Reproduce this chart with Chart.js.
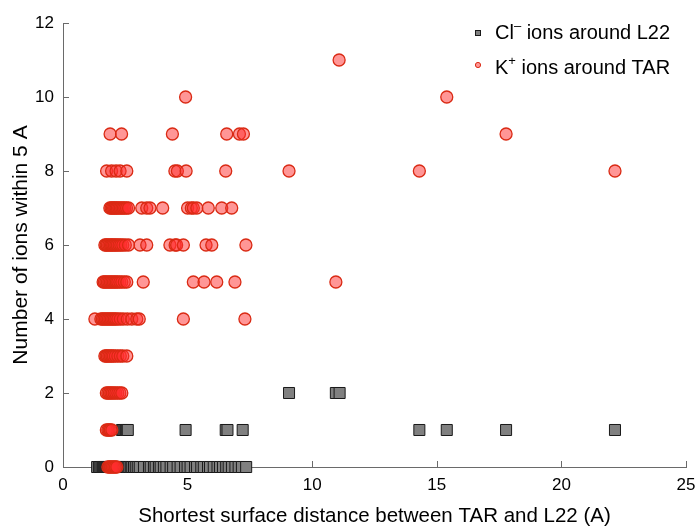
<!DOCTYPE html>
<html>
<head>
<meta charset="utf-8">
<script src="https://cdn.jsdelivr.net/npm/chart.js@4.4.1/dist/chart.umd.min.js"></script>
<style>
  body { margin: 0; background: #fff; }
  #wrap { width: 700px; height: 532px; }
</style>
</head>
<body>
<div id="wrap"><canvas id="ions" width="700" height="532"></canvas></div>
<script>
// number of ions within 5 A (row) -> shortest surface distances (A) where it was seen
var kCounts = [0, 1, 2, 3, 4, 5, 6, 7, 8, 9, 10, 11];
var kDistances = [
    [1.8, 1.86, 1.92, 1.98, 2.04, 2.1, 2.16],
    [1.74, 1.8, 1.85, 1.9, 1.96],
    [1.74, 1.8, 1.86, 1.92, 1.98, 2.05, 2.12, 2.2, 2.28, 2.36],
    [1.68, 1.73, 1.78, 1.84, 1.9, 1.96, 2.02, 2.1, 2.2, 2.3, 2.4, 2.56],
    [1.28, 1.52, 1.58, 1.64, 1.7, 1.76, 1.82, 1.88, 1.94, 2.0, 2.06, 2.12, 2.2, 2.3, 2.42, 2.58, 2.76, 2.96, 3.06, 4.83, 7.3],
    [1.61, 1.66, 1.72, 1.78, 1.84, 1.9, 1.96, 2.02, 2.08, 2.14, 2.2, 2.28, 2.36, 2.46, 2.56, 3.22, 5.23, 5.66, 6.17, 6.9, 10.95],
    [1.68, 1.73, 1.78, 1.84, 1.9, 1.95, 2.0, 2.06, 2.12, 2.18, 2.25, 2.32, 2.4, 2.5, 2.63, 3.09, 3.36, 4.29, 4.5, 4.56, 4.83, 5.74, 5.97, 7.34],
    [1.88, 1.93, 1.98, 2.03, 2.08, 2.13, 2.18, 2.24, 2.3, 2.36, 2.42, 2.48, 2.55, 2.63, 3.16, 3.36, 3.49, 4.0, 5.0, 5.15, 5.23, 5.37, 5.83, 6.37, 6.77],
    [1.75, 1.95, 2.13, 2.29, 2.56, 4.49, 4.59, 4.94, 6.53, 9.07, 14.3, 22.15],
    [1.89, 2.35, 4.39, 6.57, 7.08, 7.24, 17.78],
    [4.92, 15.4],
    [11.08]
];

var clCounts = [0, 1, 2];
var clDistances = [
    [1.37, 1.45, 1.5, 1.55, 1.6, 1.64, 1.68, 1.72, 1.76, 1.8, 1.84, 1.88, 1.92, 1.96, 2.0, 2.04, 2.08, 2.12, 2.16, 2.2,
     2.25, 2.3, 2.35, 2.4, 2.45, 2.5, 2.55, 2.6, 2.66, 2.72, 2.78, 2.85, 2.92, 3.0, 3.08, 3.25, 3.45, 3.52, 3.65, 3.72,
     3.85, 3.92, 4.05, 4.15, 4.32, 4.42, 4.6, 4.72, 4.9, 5.0, 5.12, 5.3, 5.38, 5.55, 5.65, 5.82, 5.9, 6.05, 6.2, 6.3,
     6.42, 6.55, 6.65, 6.78, 6.92, 7.05, 7.18, 7.35],
    [2.37, 2.42, 2.47, 2.52, 2.56, 2.6, 4.92, 6.53, 6.6, 7.21, 14.3, 15.4, 17.78, 22.15],
    [9.07, 10.95, 11.1]
];

var xTicks = [0, 5, 10, 15, 20, 25];
var yTicks = [0, 2, 4, 6, 8, 10, 12];

function toPoints(counts, distances) {
    var pts = [];
    for (var i = 0; i < counts.length; i++) {
        for (var j = 0; j < distances[i].length; j++) {
            pts.push({x: distances[i][j], y: counts[i]});
        }
    }
    return pts;
}

var kFill = 'rgba(255,45,45,0.5)';
var kEdge = 'rgb(218,42,20)';
var clFill = '#808080';
var clEdge = '#1a1a1a';
var axisColor = '#6a6a6a';
var fontName = '"Liberation Sans", Arial, sans-serif';

// matlab style ticks pointing into the plot
var inwardTicks = {
    id: 'inwardTicks',
    beforeDatasetsDraw: function(chart) {
        var ctx = chart.ctx, a = chart.chartArea;
        var xs = chart.scales.x, ys = chart.scales.y;
        ctx.save();
        ctx.strokeStyle = axisColor;
        ctx.lineWidth = 1;
        ctx.beginPath();
        xTicks.forEach(function(t) {
            var px = Math.round(xs.getPixelForValue(t)) + 0.5;
            ctx.moveTo(px, a.bottom);
            ctx.lineTo(px, a.bottom - 6);
        });
        yTicks.forEach(function(t) {
            var py = Math.round(ys.getPixelForValue(t)) + 0.5;
            ctx.moveTo(a.left, py);
            ctx.lineTo(a.left + 6, py);
        });
        ctx.stroke();
        ctx.restore();
    }
};

// legend in the top right corner, with superscript charges
var cornerLegend = {
    id: 'cornerLegend',
    afterDraw: function(chart) {
        var ctx = chart.ctx;
        var mx = 478, tx = 495;
        var rows = [
            {my: 33, base: 'Cl', sup: '\u2013', rest: ' ions around L22', type: 'cl', ty: 39},
            {my: 65, base: 'K', sup: '+', rest: ' ions around TAR', type: 'k', ty: 74}
        ];
        ctx.save();
        rows.forEach(function(r) {
            if (r.type == 'cl') {
                ctx.fillStyle = clFill;
                ctx.strokeStyle = clEdge;
                ctx.lineWidth = 1;
                ctx.fillRect(mx - 2.5, r.my - 2.5, 5, 5);
                ctx.strokeRect(mx - 2.5, r.my - 2.5, 5, 5);
            } else {
                ctx.beginPath();
                ctx.arc(mx, r.my, 2.6, 0, Math.PI * 2);
                ctx.fillStyle = kFill;
                ctx.fill();
                ctx.strokeStyle = kEdge;
                ctx.lineWidth = 1;
                ctx.stroke();
            }
            ctx.fillStyle = '#000';
            ctx.textBaseline = 'alphabetic';
            ctx.textAlign = 'left';
            ctx.font = '20px ' + fontName;
            ctx.fillText(r.base, tx, r.ty);
            var x = tx + ctx.measureText(r.base).width;
            ctx.font = '13px ' + fontName;
            ctx.fillText(r.sup, x, r.ty - 9);
            x += ctx.measureText(r.sup).width;
            ctx.font = '20px ' + fontName;
            ctx.fillText(r.rest, x, r.ty);
        });
        ctx.restore();
    }
};

Chart.defaults.font.family = fontName;
Chart.defaults.color = '#000';

var ctx = document.getElementById('ions').getContext('2d');
var myChart = new Chart(ctx, {
    type: 'scatter',
    data: {
        datasets: [{
            label: 'Cl- ions around L22',
            data: toPoints(clCounts, clDistances),
            pointStyle: 'rect',
            pointRadius: 7.8,
            pointBackgroundColor: clFill,
            pointBorderColor: clEdge,
            pointBorderWidth: 1,
            clip: false,
            order: 2
        }, {
            label: 'K+ ions around TAR',
            data: toPoints(kCounts, kDistances),
            pointStyle: 'circle',
            pointRadius: 6,
            pointBackgroundColor: kFill,
            pointBorderColor: kEdge,
            pointBorderWidth: 1.3,
            clip: false,
            order: 1
        }]
    },
    options: {
        responsive: false,
        animation: false,
        events: [],
        layout: {padding: {left: 0, top: 23, right: 14, bottom: 0}},
        plugins: {
            legend: {display: false},
            tooltip: {enabled: false}
        },
        scales: {
            x: {
                type: 'linear',
                min: 0,
                max: 25,
                afterFit: function(s) { s.height = 65; s.paddingLeft = 0; s.paddingRight = 0; },
                afterBuildTicks: function(s) { s.ticks = xTicks.map(function(v) { return {value: v}; }); },
                grid: {display: false, drawTicks: false},
                border: {display: true, color: axisColor, width: 1},
                ticks: {padding: 8, font: {size: 17}, color: '#000'},
                title: {
                    display: true,
                    text: 'Shortest surface distance between TAR and L22 (A)',
                    font: {size: 20.5},
                    color: '#000',
                    padding: {top: 4, bottom: 3}
                }
            },
            y: {
                type: 'linear',
                min: 0,
                max: 12,
                afterFit: function(s) { s.width = 63; s.paddingTop = 0; s.paddingBottom = 0; },
                afterBuildTicks: function(s) { s.ticks = yTicks.map(function(v) { return {value: v}; }); },
                grid: {display: false, drawTicks: false},
                border: {display: true, color: axisColor, width: 1},
                ticks: {padding: 9, font: {size: 17}, color: '#000'},
                title: {
                    display: true,
                    text: 'Number of ions within 5 A',
                    font: {size: 21},
                    color: '#000',
                    padding: {top: 9, bottom: 0}
                }
            }
        }
    },
    plugins: [inwardTicks, cornerLegend]
});
</script>
</body>
</html>
